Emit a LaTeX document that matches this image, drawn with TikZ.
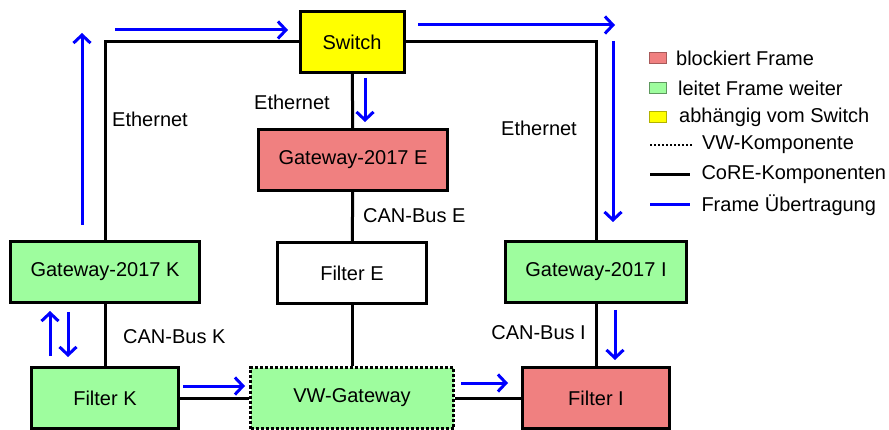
\documentclass[tikz,border=0pt]{standalone}
\usepackage{fontspec}
\setmainfont{Liberation Sans}
\usepackage{tikz}
\usetikzlibrary{arrows.meta,positioning}
\definecolor{Blocked}{RGB}{240,128,128}
\definecolor{Passing}{RGB}{158,253,158}
\definecolor{Depends}{RGB}{255,255,0}
\definecolor{FrameBlue}{RGB}{0,0,255}
\tikzset{
	comp/.style={draw, line width=3pt, minimum height=61pt, inner sep=0pt, font=\fontsize{20}{24}\selectfont},
	wire/.style={line width=3pt},
	frame/.style={FrameBlue, line width=3pt, -{Straight Barb[length=8pt,width=17pt]}},
	lbl/.style={font=\fontsize{20}{24}\selectfont, inner sep=0pt},
	legbox/.style={line width=0.9pt, minimum width=17pt, minimum height=11pt, inner sep=0pt}
}

\begin{document}
\begin{tikzpicture}[x=1pt, y=-1pt]
			\useasboundingbox (0,0) rectangle (889,430);
			% components
			\node[comp, fill=Depends, minimum width=104pt] (switch) at (352,42) {Switch};
			\node[comp, fill=Blocked, minimum width=189pt] (gwE) at (353,160) {Gateway-2017 E};
			\node[comp, fill=white, minimum width=149pt] (filterE) at (352,273) {Filter E};
			\node[comp, fill=Passing, minimum width=189pt] (gwK) at (105,272) {Gateway-2017 K};
			\node[comp, fill=Passing, minimum width=147pt] (filterK) at (105,398) {Filter K};
			\node[comp, fill=Passing, minimum width=203pt, dotted] (vwgw) at (352,398) {VW-Gateway};
			\node[comp, fill=Passing, minimum width=181pt] (gwI) at (596,272) {Gateway-2017 I};
			\node[comp, fill=Blocked, minimum width=147pt] (filterI) at (596,398) {Filter I};
			% wires
			\draw[wire] (gwK.north) |- (switch.west);
			\draw[wire] (switch.east) -| (gwI.north);
			\draw[wire] (switch) -- (gwE);
			\draw[wire] (gwE) -- (filterE);
			\draw[wire] (filterE) -- (vwgw);
			\draw[wire] (gwK) -- (filterK);
			\draw[wire] (gwI) -- (filterI);
			\draw[wire] (filterK) -- (vwgw);
			\draw[wire] (vwgw) -- (filterI);
			% bus labels
			\node[lbl, anchor=west] (ethK) at (112,119) {Ethernet};
			\node[lbl, anchor=east] (ethE) at (330,102) {Ethernet};
			\node[lbl] (ethI) at (539,128) {Ethernet};
			\node[lbl, anchor=west] (canE) at (363,216) {CAN-Bus E};
			\node[lbl, anchor=west] (canK) at (123,337) {CAN-Bus K};
			\node[lbl, anchor=east] (canI) at (586,333) {CAN-Bus I};
			% frame flow
			\draw[frame] (82,225) -- (82,33);
			\draw[frame] (115,30) -- (288,30);
			\draw[frame] (365,78) -- (365,122);
			\draw[frame] (418,25) -- (615,25);
			\draw[frame] (613,41) -- (613,222);
			\draw[frame] (615,310) -- (615,360);
			\draw[frame] (50,356) -- (50,311);
			\draw[frame] (68,312) -- (68,357);
			\draw[frame] (183,386) -- (245,386);
			\draw[frame] (461,383) -- (508,383);
			% legend
			\node[legbox, draw=Blocked!70!black, fill=Blocked] (legB) at (658,58) {};
			\node[lbl, right=9pt of legB] {blockiert Frame};
			\node[legbox, draw=Passing!60!black, fill=Passing] (legP) at (658,88) {};
			\node[lbl, right=11pt of legP] {leitet Frame weiter};
			\node[legbox, draw=Depends!70!black, fill=Depends] (legD) at (658,117) {};
			\node[lbl, right=12pt of legD] {abhängig vom Switch};
			\coordinate (legV) at (650,145);
			\draw[line width=2pt, dotted] (legV) -- ++(42,0) node[lbl, right=9pt] {VW-Komponente};
			\coordinate (legC) at (650,175);
			\draw[wire] (legC) -- ++(40,0) node[lbl, right=10pt] {CoRE-Komponenten};
			\coordinate (legF) at (650,205);
			\draw[FrameBlue, line width=3pt] (legF) -- ++(40,0) node[lbl, black, right=10pt] {Frame Übertragung};
		\end{tikzpicture}
\end{document}
